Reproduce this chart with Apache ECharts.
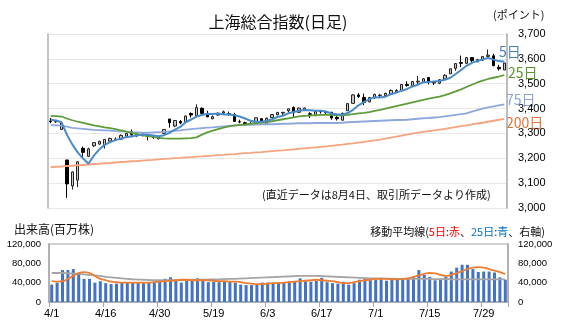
<!DOCTYPE html>
<html><head><meta charset="utf-8">
<script src="https://cdn.jsdelivr.net/npm/echarts@6/dist/echarts.min.js"></script>
<style>html,body{margin:0;padding:0;background:#fff}#c{width:567px;height:334px}</style>
</head><body><div id="c"></div>
<script>
const dates = ['4/1','4/2','4/3','4/7','4/8','4/9','4/10','4/11','4/14','4/15','4/16','4/17','4/18','4/21','4/22','4/23','4/24','4/25','4/28','4/29','4/30','5/6','5/7','5/8','5/9','5/12','5/13','5/14','5/15','5/16','5/19','5/20','5/21','5/22','5/23','5/26','5/27','5/28','5/29','5/30','6/3','6/4','6/5','6/6','6/9','6/10','6/11','6/12','6/13','6/16','6/17','6/18','6/19','6/20','6/23','6/24','6/25','6/26','6/27','6/30','7/1','7/2','7/3','7/4','7/7','7/8','7/9','7/10','7/11','7/14','7/15','7/16','7/17','7/18','7/21','7/22','7/23','7/24','7/25','7/28','7/29','7/30','7/31','8/1','8/4'];

const open  = [3350,3347,3316,3193,3089,3112,3240,3208,3250,3257,3254,3269,3275,3277,3289,3307,3295,3297,3294,3283,3286,3300,3358,3330,3348,3348,3380,3371,3401,3380,3359,3374,3382,3377,3376,3347,3343,3340,3338,3359,3337,3364,3375,3382,3391,3404,3385,3396,3379,3371,3388,3383,3385,3364,3353,3391,3421,3455,3445,3427,3443,3452,3452,3458,3467,3472,3497,3492,3507,3506,3525,3505,3502,3519,3540,3562,3585,3582,3605,3588,3595,3610,3612,3566,3555];
const close = [3348,3350,3342,3097,3145,3186,3224,3238,3263,3268,3276,3280,3277,3292,3300,3296,3297,3295,3288,3286,3279,3316,3343,3352,3342,3370,3374,3404,3380,3367,3367,3381,3387,3380,3348,3346,3340,3339,3363,3347,3361,3376,3384,3385,3399,3384,3402,3402,3377,3388,3387,3388,3362,3359,3381,3420,3455,3448,3424,3444,3457,3454,3461,3473,3473,3497,3493,3509,3510,3520,3505,3503,3516,3534,3560,3581,3582,3605,3593,3597,3609,3615,3573,3560,3583];
const low   = [3341,3342,3315,3041,3074,3084,3205,3205,3245,3254,3239,3264,3271,3275,3288,3284,3285,3288,3272,3278,3276,3300,3323,3325,3337,3347,3364,3370,3378,3365,3357,3371,3378,3370,3347,3341,3331,3334,3338,3341,3336,3363,3373,3374,3385,3365,3383,3393,3362,3371,3380,3378,3355,3352,3353,3391,3420,3443,3414,3425,3440,3444,3451,3454,3465,3472,3488,3490,3497,3506,3497,3495,3498,3515,3539,3552,3567,3579,3585,3587,3591,3601,3570,3553,3555];
const high  = [3362,3354,3347,3194,3147,3187,3247,3243,3265,3271,3276,3283,3284,3296,3301,3316,3305,3300,3295,3290,3289,3316,3358,3353,3354,3372,3385,3417,3405,3391,3372,3384,3392,3388,3383,3355,3347,3347,3364,3362,3364,3377,3387,3386,3400,3409,3404,3404,3385,3390,3394,3391,3387,3375,3384,3422,3458,3462,3460,3447,3460,3459,3464,3477,3478,3497,3510,3510,3531,3522,3526,3508,3518,3538,3560,3582,3613,3606,3605,3600,3610,3637,3620,3576,3584];

const ma5   = [3355,3352,3345,3295,3256,3224,3199,3178,3211,3236,3254,3265,3273,3279,3285,3289,3292,3296,3295,3292,3289,3293,3302,3315,3326,3345,3356,3368,3374,3379,3378,3380,3376,3376,3373,3368,3360,3351,3347,3347,3350,3357,3366,3371,3381,3386,3391,3394,3393,3391,3391,3388,3380,3377,3375,3382,3395,3413,3426,3438,3446,3445,3448,3458,3464,3472,3479,3489,3496,3506,3507,3509,3511,3516,3524,3539,3555,3572,3584,3592,3597,3604,3597,3591,3588];
const ma25  = [3371,3370,3368,3360,3353,3347,3342,3337,3332,3328,3324,3321,3317,3312,3307,3302,3297,3292,3289,3286,3282,3280,3279,3279,3279,3280,3281,3284,3295,3304,3311,3317,3323,3328,3331,3334,3336,3339,3342,3344,3346,3349,3353,3357,3361,3365,3369,3371,3372,3374,3375,3375,3374,3373,3373,3375,3378,3381,3383,3386,3391,3395,3400,3405,3410,3415,3420,3425,3430,3435,3440,3444,3448,3454,3461,3469,3477,3487,3496,3505,3512,3519,3524,3529,3535];
const ma75  = [3333,3332,3331,3327,3322,3320,3318,3316,3314,3313,3312,3311,3309,3308,3307,3305,3304,3303,3303,3304,3305,3306,3308,3310,3312,3315,3317,3319,3321,3323,3324,3326,3328,3330,3332,3333,3334,3335,3336,3337,3337,3337,3338,3339,3339,3340,3341,3341,3341,3342,3342,3342,3342,3342,3343,3345,3346,3347,3348,3349,3350,3351,3352,3353,3354,3354,3355,3357,3359,3361,3362,3364,3366,3369,3372,3375,3378,3381,3388,3394,3400,3405,3409,3413,3417];
const ma200 = [3164,3166,3167,3169,3170,3172,3173,3175,3177,3178,3180,3181,3183,3185,3186,3188,3189,3191,3193,3194,3196,3198,3199,3201,3202,3204,3205,3207,3208,3210,3211,3213,3214,3216,3217,3219,3221,3222,3224,3225,3227,3229,3231,3232,3234,3236,3238,3240,3242,3244,3246,3248,3250,3253,3255,3258,3260,3263,3266,3269,3272,3275,3279,3283,3287,3291,3295,3299,3303,3306,3309,3312,3315,3318,3322,3325,3329,3332,3336,3340,3343,3347,3351,3355,3359];

const volume = [36000,40000,66000,66000,68000,60000,48000,48000,40000,43000,39000,37000,38000,40000,41000,41000,40000,39000,41000,42000,44000,48000,51000,45000,40000,47000,45000,49000,46000,41000,42000,41000,43000,42000,40000,36000,35000,35000,37000,40000,40000,39000,41000,40000,43000,42000,49000,43000,42000,44000,50000,41000,39000,38000,42000,36000,39000,46000,48000,49000,46000,47000,44000,47000,46000,47000,50000,52000,66000,56000,52000,45000,47000,52000,63000,71000,77000,77000,68000,62000,63000,63000,61000,51000,46000];
const volMa5 = [44000,42000,43000,48000,54000,60000,62000,60000,54000,48000,45000,42000,41000,40000,40000,40000,40000,40000,40000,41000,42000,43000,44000,45000,46000,46000,45000,45000,45000,45000,44000,43000,43000,42000,42000,41000,39000,38000,37000,37000,38000,39000,39000,40000,41000,42000,43000,44000,45000,46000,45000,44000,43000,41000,39000,39000,41000,43000,45000,46000,48000,48000,48000,47000,47000,48000,49000,52000,55000,58000,60000,59000,56000,54000,56000,60000,64000,68000,71000,72000,71000,68000,65000,62000,58000];
const volMa25 = [60000,60000,60000,59500,59000,58500,57000,56000,55000,54000,52000,51000,50000,49000,48000,47000,46500,46000,45500,45000,45000,45000,45000,45000,45000,45500,46000,46000,46000,46500,47000,47000,47500,48000,48000,48500,49000,49500,50000,50500,51000,51500,52000,52500,53000,53500,54000,54000,54000,54000,53500,53000,52500,52000,51500,51000,50500,50000,49500,49000,49000,49000,48500,48500,48000,48000,48000,48000,48000,48000,47500,47500,47500,47500,47000,47000,47000,47000,47000,47000,47000,47000,47000,47000,47000];

const priceTicks = {min: 3000, max: 3700, step: 100};
const volTicks = {min: 0, max: 120000, step: 40000};

const candleData = dates.map((d, i) => [open[i], close[i], low[i], high[i]]);
const jp = '"Noto Sans CJK JP", sans-serif';
const num = '"Liberation Sans", Arial, sans-serif';
const fmt = v => v.toLocaleString('en-US');

const chart = echarts.init(document.getElementById('c'), null, {renderer: 'canvas'});
chart.setOption({
  animation: false,
  backgroundColor: '#fff',
  grid: [
    {left: 48, right: 60, top: 34, height: 174},
    {left: 49, right: 59, top: 244, height: 58, show: true, borderColor: '#c4c4c4', borderWidth: 1.5}
  ],
  xAxis: [
    {type: 'category', gridIndex: 0, data: dates, boundaryGap: true,
     axisLine: {show: false}, axisTick: {show: false}, axisLabel: {show: false}, splitLine: {show: false}},
    {type: 'category', gridIndex: 1, data: dates, boundaryGap: true,
     axisLine: {show: true, lineStyle: {color: '#a6a6a6', width: 1.5}},
     axisTick: {show: true, interval: 9, length: 5, lineStyle: {color: '#a6a6a6'}},
     axisLabel: {interval: 9, color: '#000', fontSize: 11, fontFamily: num, margin: 6},
     splitLine: {show: false}}
  ],
  yAxis: [
    {type: 'value', gridIndex: 0, position: 'right', min: priceTicks.min, max: priceTicks.max, interval: priceTicks.step,
     axisLine: {show: true, lineStyle: {color: '#a6a6a6', width: 1.5}}, axisTick: {show: false},
     axisLabel: {color: '#000', fontSize: 11, fontFamily: num, margin: 11, formatter: fmt},
     splitLine: {show: true, lineStyle: {color: '#e8e8e8', width: 1}}},
    {type: 'value', gridIndex: 0, position: 'left', min: priceTicks.min, max: priceTicks.max, interval: priceTicks.step,
     axisLine: {show: true, lineStyle: {color: '#b0b0b0', width: 1.5}}, axisTick: {show: false},
     axisLabel: {show: false}, splitLine: {show: false}},
    {type: 'value', gridIndex: 1, position: 'left', min: volTicks.min, max: volTicks.max, interval: volTicks.step,
     axisLine: {show: true, lineStyle: {color: '#a6a6a6', width: 1.5}}, axisTick: {show: false},
     axisLabel: {color: '#000', fontSize: 9.5, fontFamily: num, margin: 8, formatter: fmt},
     splitLine: {show: false}},
    {type: 'value', gridIndex: 1, position: 'right', min: volTicks.min, max: volTicks.max, interval: volTicks.step,
     axisLine: {show: true, lineStyle: {color: '#a6a6a6', width: 1.5}}, axisTick: {show: false},
     axisLabel: {color: '#000', fontSize: 9.5, fontFamily: num, margin: 10, formatter: fmt},
     splitLine: {show: false}}
  ],
  series: [
    {type: 'line', name: '200', xAxisIndex: 0, yAxisIndex: 0, data: ma200, symbol: 'none',
     lineStyle: {color: '#f6a37f', width: 1.8}},
    {type: 'line', name: '75', xAxisIndex: 0, yAxisIndex: 0, data: ma75, symbol: 'none',
     lineStyle: {color: '#8fa8dc', width: 1.8}},
    {type: 'line', name: '25', xAxisIndex: 0, yAxisIndex: 0, data: ma25, symbol: 'none',
     lineStyle: {color: '#5f9d3a', width: 1.8}},
    {type: 'candlestick', xAxisIndex: 0, yAxisIndex: 0, data: candleData, barWidth: 3,
     itemStyle: {color: '#c8c8c8', color0: '#000000', borderColor: '#222', borderColor0: '#000', borderWidth: 1}},
    {type: 'line', name: '5', xAxisIndex: 0, yAxisIndex: 0, data: ma5, symbol: 'none',
     lineStyle: {color: '#4a8bc8', width: 2}},
    {type: 'bar', xAxisIndex: 1, yAxisIndex: 2, data: volume, barWidth: 3,
     itemStyle: {color: '#4472c4'}},
    {type: 'line', xAxisIndex: 1, yAxisIndex: 3, data: volMa25, symbol: 'none', smooth: true,
     lineStyle: {color: '#a5a5a5', width: 1.8}},
    {type: 'line', xAxisIndex: 1, yAxisIndex: 3, data: volMa5, symbol: 'none', smooth: true,
     lineStyle: {color: '#ed7d31', width: 1.8}}
  ],
  graphic: [
    {type: 'text', x: 278, y: 22, style: {text: '上海総合指数(日足)', font: '16px ' + jp, fill: '#111', align: 'center', verticalAlign: 'middle'}},
    {type: 'text', x: 493, y: 15, style: {text: '(ポイント)', font: '11px ' + jp, fill: '#111', align: 'left', verticalAlign: 'middle'}},
    {type: 'text', x: 262, y: 195, style: {text: '(直近データは8月4日、取引所データより作成)', font: '11px ' + jp, fill: '#111', align: 'left', verticalAlign: 'middle'}},
    {type: 'text', x: 499, y: 52, style: {text: '5日', font: '14px ' + jp, fill: '#4a7fbe', align: 'left', verticalAlign: 'middle'}},
    {type: 'text', x: 508, y: 73, style: {text: '25日', font: '14px ' + jp, fill: '#5b962e', align: 'left', verticalAlign: 'middle'}},
    {type: 'text', x: 506, y: 100, style: {text: '75日', font: '14px ' + jp, fill: '#8fa3d8', align: 'left', verticalAlign: 'middle'}},
    {type: 'text', x: 506, y: 123, style: {text: '200日', font: '14px ' + jp, fill: '#e0743a', align: 'left', verticalAlign: 'middle'}},
    {type: 'text', x: 14, y: 229, style: {text: '出来高(百万株)', font: '12px ' + jp, fill: '#111', align: 'left', verticalAlign: 'middle'}},
    {type: 'text', x: 545, y: 232, style: {
      text: '{k|移動平均線(}{r|5日}{k|:}{r|赤}{k|、}{b|25日}{k|:}{b|青}{k|、右軸)}',
      align: 'right', verticalAlign: 'middle',
      rich: {
        k: {font: '11px ' + jp, fill: '#111'},
        r: {font: '11px ' + jp, fill: '#ff0000'},
        b: {font: '11px ' + jp, fill: '#0070c0'}
      }}}
  ]
});
</script></body></html>
